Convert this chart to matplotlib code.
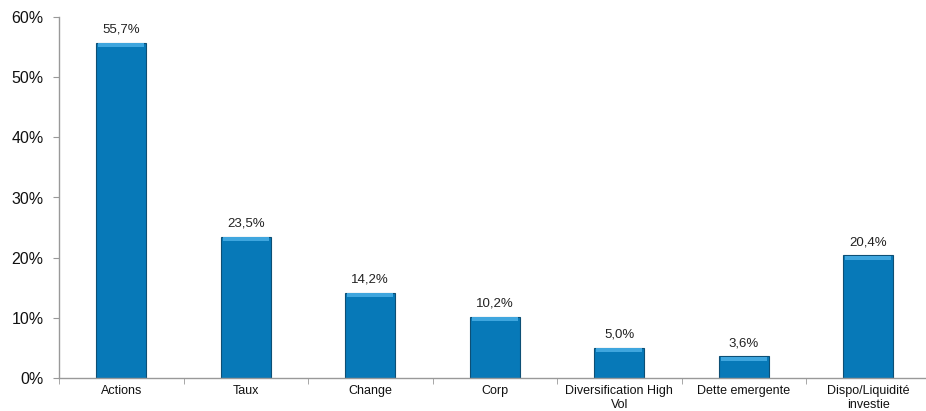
import matplotlib
matplotlib.use("Agg")
import matplotlib.pyplot as plt
from matplotlib.ticker import FixedLocator, FuncFormatter
import numpy as np

categories = ["Actions", "Taux", "Change", "Corp", "Diversification High\nVol",
              "Dette emergente", "Dispo/Liquidité\ninvestie"]
values = [55.7, 23.5, 14.2, 10.2, 5.0, 3.6, 20.4]
value_labels = ["55,7%", "23,5%", "14,2%", "10,2%", "5,0%", "3,6%", "20,4%"]
yticks = [0, 10, 20, 30, 40, 50, 60]

plt.rcParams['font.family'] = ['Liberation Sans', 'DejaVu Sans']

fig = plt.figure(figsize=(9.26, 4.11), dpi=100)
ax = fig.add_axes([59/926, 33/411, 871.5/926, 361/411])

x = np.arange(len(categories))
ax.bar(x, values, width=0.4, color="#0779B8", edgecolor="#0d4f75", linewidth=0.8, zorder=2)
# lighter top bevel
ax.bar(x, [0.7] * len(values), bottom=[v - 0.75 for v in values], width=0.37,
       color="#3fa6de", linewidth=0, zorder=3)

for xi, v, lab in zip(x, values, value_labels):
    ax.annotate(lab, (xi, v), xytext=(0, 5), textcoords="offset points",
                ha="center", va="bottom", fontsize=9.5, color="#222222")

ax.set_xlim(-0.5, len(categories) - 0.5)
ax.set_ylim(0, 60)
ax.set_yticks(yticks)
ax.yaxis.set_major_formatter(FuncFormatter(lambda v, p: f"{int(v)}%"))
ax.tick_params(axis='y', labelsize=11.5, length=4, color="#999999", pad=7, labelcolor="#111111")

ax.set_xticks(x)
ax.set_xticklabels(categories, fontsize=9, color="#111111", linespacing=1.2)
ax.xaxis.set_minor_locator(FixedLocator(np.arange(-0.5, len(categories), 1.0)))
ax.tick_params(axis='x', which='major', length=0, pad=5)
ax.tick_params(axis='x', which='minor', length=4, color="#999999")

for s in ["top", "right"]:
    ax.spines[s].set_visible(False)
for s in ["left", "bottom"]:
    ax.spines[s].set_color("#999999")
    ax.spines[s].set_linewidth(1.0)

fig.savefig("out.png", dpi=100)
